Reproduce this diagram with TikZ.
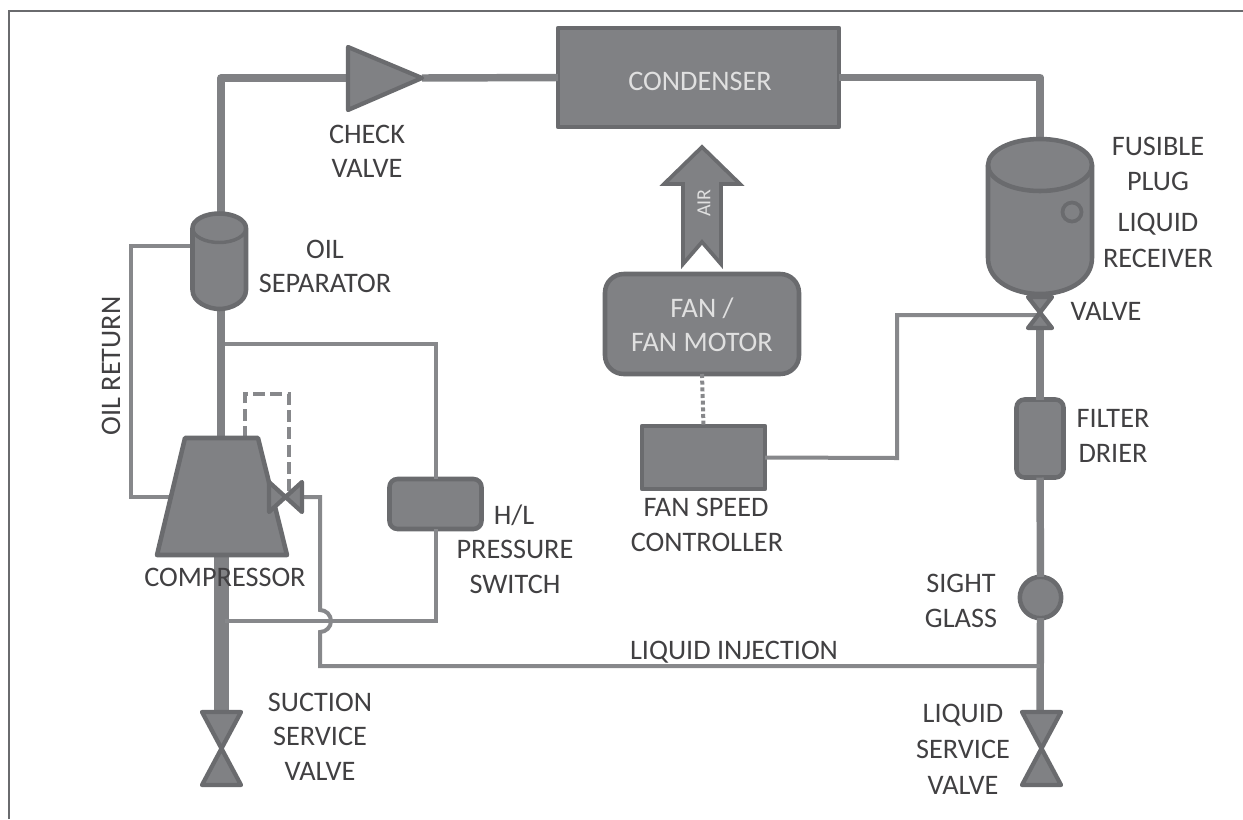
\documentclass[tikz,border=0pt]{standalone}
\usepackage{fontspec}
\setmainfont{Carlito}
\usetikzlibrary{shapes.geometric,backgrounds}
\definecolor{fillg}{HTML}{808184}
\definecolor{edgeg}{HTML}{6A6B6E}
\definecolor{pipeg}{HTML}{808184}
\definecolor{thing}{HTML}{87888B}
\definecolor{txtg}{HTML}{414042}
\tikzset{
  x=0.75pt,y=-0.75pt,
  shapeobj/.style={fill=fillg,draw=edgeg,line width=3.4pt,line join=round},
  boxnode/.style={shapeobj,rectangle,inner sep=0pt,outer sep=0pt},
  pipe/.style={draw=pipeg,line width=5.6pt,line join=round},
  thinpipe/.style={draw=thing,line width=3pt,line join=miter},
  lbl/.style={text=txtg,font=\fontsize{21.2pt}{21.2pt}\selectfont,inner sep=0pt,outer sep=0pt,anchor=center},
  wlbl/.style={lbl,text=white!88!black},
  vlv/.style={shapeobj,line width=3.2pt},
}
\begin{document}
\begin{tikzpicture}
\useasboundingbox (0,0) rectangle (1243,819);
% frame
\coordinate (fa) at (9,819); \coordinate (fb) at (9,11); \coordinate (fc) at (1243,11);
\draw[draw=edgeg,line width=1.6pt] (fa) -- (fb) -- (fc);
% nodes
\node[boxnode,minimum width=210.75pt,minimum height=74.25pt] (cond) at (698.5,77.5) {};
\node[boxnode,rounded corners=6pt,minimum width=35.25pt,minimum height=58.5pt] (filt) at (1040,438.5) {};
\node[boxnode,rounded corners=6pt,minimum width=69pt,minimum height=37.5pt] (hl) at (435.5,504) {};
\node[boxnode,rounded corners=14pt,minimum width=145.5pt,minimum height=75pt] (fan) at (702,324) {};
\node[boxnode,minimum width=92.25pt,minimum height=47.25pt] (ctrl) at (703.5,457.5) {};
\node[boxnode,circle,minimum size=31pt] (sight) at (1040.5,597.5) {};
% coordinates
\coordinate (chkin) at (348,78); \coordinate (chkout) at (422,78);
\coordinate (cornerA) at (221,78);
\coordinate (sepTop) at (221,214); \coordinate (sepBot) at (221,310);
\coordinate (compTop) at (221,438); \coordinate (compBot) at (221,555);
\coordinate (suctTop) at (221,711);
\coordinate (recTop) at (1040,140); \coordinate (recValveB) at (1040,329);
\coordinate (liqTop) at (1040,711);
\coordinate (sepOil) at (193,246); \coordinate (compOil) at (170,497);
\coordinate (hlTee) at (225,344); \coordinate (hlTeeB) at (225,621);
\coordinate (injValve) at (303,497); \coordinate (injTee) at (1040,666);
\coordinate (ctrlValve) at (1040,315);
% pipes
\draw[pipe] (sepTop) -- (cornerA) -- (chkin);
\draw[pipe] (chkout) -- (cond.west);
\draw[pipe] (cond.east) -| (recTop);
\draw[pipe] (sepBot) -- (compTop);
\draw[draw=pipeg,line width=11.25pt] (compBot) -- (suctTop);
\draw[pipe] (recValveB) -- (filt.north);
\draw[pipe] (filt.south) -- (sight.north);
\draw[pipe] (sight.south) -- (liqTop);
% thin lines
\draw[thinpipe] (sepOil) -| (131,497) -- (compOil);
\draw[thinpipe] (hlTee) -| (hl.north);
\draw[thinpipe] (hl.south) |- (hlTeeB);
\draw[thinpipe] (ctrl.east) -- (897,458) |- (ctrlValve);
\draw[thinpipe] (injValve) -- (320,497) -- (320,610) arc[start angle=-90,end angle=90,radius=11] -- (320,666) -- (injTee);
\draw[draw=thing,line width=3pt,dotted] (fan.south) -- (ctrl.north);
\draw[draw=thing,line width=3pt,dashed,dash pattern=on 9pt off 4pt] (245,438) -- (245,394) -- (289,394) -- (289,492);
% check valve
\draw[vlv] (chkin |- 0,47) -- (chkout) -- (chkin |- 0,110) -- cycle;
% oil separator
\draw[shapeobj] (192.5,228) -- (192.5,290) .. controls (192.5,302) and (208,309) .. (219.5,309) .. controls (231,309) and (246,302) .. (246,290) -- (246,228) arc[start angle=0,end angle=-180,x radius=26.75,y radius=14.5] -- cycle;
\draw[shapeobj,fill=none,line width=2.6pt] (192.5,228) arc[start angle=180,end angle=0,x radius=26.75,y radius=14.5];
% compressor
\draw[shapeobj] (185,438) -- (258,438) -- (287,555) -- (157,555) -- cycle;
% injection valve
\draw[vlv] (269,482) -- (302,512) -- (302,482) -- (269,512) -- cycle;
% receiver
\draw[shapeobj] (988,165) -- (988,258) .. controls (988,282) and (1015,294) .. (1040,294) .. controls (1065,294) and (1092,282) .. (1092,258) -- (1092,165) arc[start angle=0,end angle=-180,x radius=52,y radius=26] -- cycle;
\draw[shapeobj,fill=none] (988,165) arc[start angle=180,end angle=0,x radius=52,y radius=26];
\draw[shapeobj,line width=2.8pt] (1072,212) circle[radius=9.5];
% receiver valve
\draw[vlv] (1028,297) -- (1052,297) -- (1028,328) -- (1052,328) -- cycle;
% suction and liquid valves
\draw[vlv] (202,712) -- (241,712) -- (202,785) -- (241,785) -- cycle;
\draw[vlv] (1022,712) -- (1061,712) -- (1022,785) -- (1061,785) -- cycle;
% air arrow
\draw[shapeobj,line width=2.8pt,line join=miter] (683,264) -- (683,184) -- (664,184) -- (702,147) -- (740,184) -- (721,184) -- (721,264) -- (702,242) -- cycle;
% labels
\node[wlbl] (tcond) at (700,81) {CONDENSER};
\node[wlbl,font=\fontsize{15pt}{15pt}\selectfont,rotate=90] (tair) at (704,203) {AIR};
\node[wlbl] (tfan1) at (702,308) {FAN /};
\node[wlbl] (tfan2) at (702,342) {FAN MOTOR};
\node[lbl] (t1) at (367,134) {CHECK};
\node[lbl] (t2) at (367,168) {VALVE};
\node[lbl] (t3) at (325,249) {OIL};
\node[lbl] (t4) at (325,283) {SEPARATOR};
\node[lbl,rotate=90] (t5) at (111,366) {OIL RETURN};
\node[lbl] (t6) at (225,577) {COMPRESSOR};
\node[lbl] (t7) at (514,515) {H/L};
\node[lbl] (t8) at (515,549) {PRESSURE};
\node[lbl] (t9) at (515,584) {SWITCH};
\node[lbl] (t10) at (320,702) {SUCTION};
\node[lbl] (t11) at (320,736) {SERVICE};
\node[lbl] (t12) at (320,771) {VALVE};
\node[lbl] (t13) at (734,652) {LIQUID INJECTION};
\node[lbl] (t14) at (961,583) {SIGHT};
\node[lbl] (t15) at (961,618) {GLASS};
\node[lbl] (t16) at (963,715) {LIQUID};
\node[lbl] (t17) at (963,749) {SERVICE};
\node[lbl] (t18) at (963,785) {VALVE};
\node[lbl] (t19) at (1113,418) {FILTER};
\node[lbl] (t20) at (1113,453) {DRIER};
\node[lbl] (t21) at (1106,311) {VALVE};
\node[lbl] (t22) at (1158,146) {FUSIBLE};
\node[lbl] (t23) at (1158,181) {PLUG};
\node[lbl] (t24) at (1158,224) {LIQUID};
\node[lbl] (t25) at (1158,258) {RECEIVER};
\node[lbl] (t26) at (706,507) {FAN SPEED};
\node[lbl] (t27) at (707,542) {CONTROLLER};
\end{tikzpicture}
\end{document}
